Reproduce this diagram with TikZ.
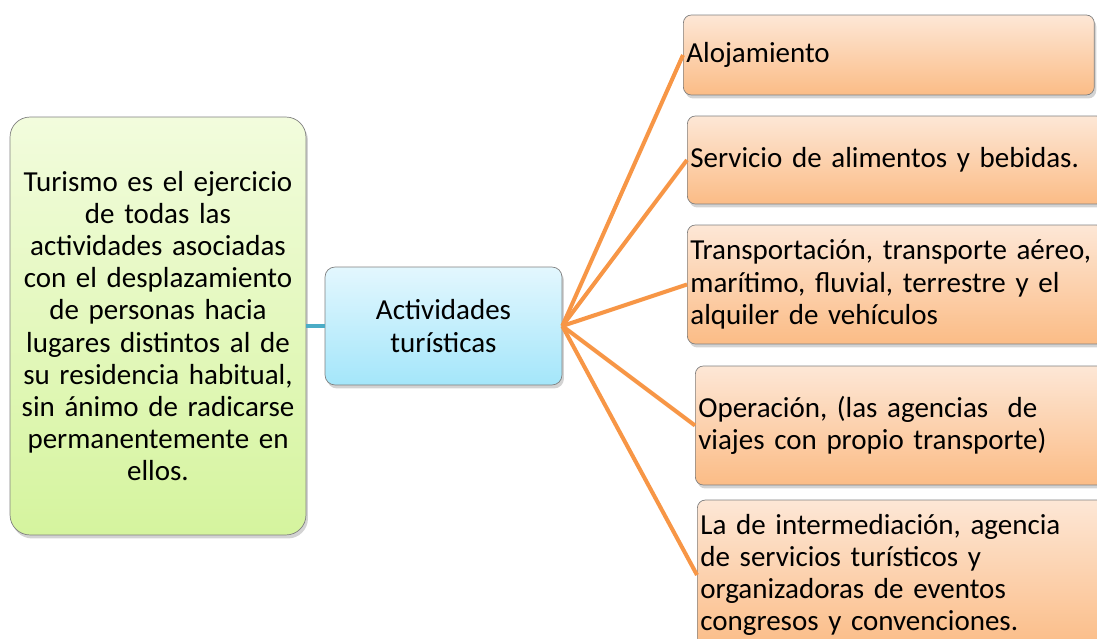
\documentclass[tikz,border=0pt]{standalone}
\usepackage{fontspec}
\setmainfont{Carlito}
\usepackage{tikz}
\usetikzlibrary{shadows}
\definecolor{verdeA}{HTML}{F2FCDD}
\definecolor{verdeB}{HTML}{D5F49E}
\definecolor{azulA}{HTML}{E3F7FE}
\definecolor{azulB}{HTML}{A4E6FA}
\definecolor{naranjaA}{HTML}{FDE7D6}
\definecolor{naranjaB}{HTML}{FBBC86}
\definecolor{naranjaL}{HTML}{F79646}
\definecolor{tealL}{HTML}{4BACC6}

\begin{document}
\begin{tikzpicture}[x=0.02cm, y=-0.02cm,
  font=\fontsize{16.5pt}{18.3pt}\selectfont,
  caja/.style={rectangle, draw=black!50, thin, drop shadow={shadow xshift=0.04cm, shadow yshift=-0.07cm, opacity=0.35}},
  defi/.style={caja, rounded corners=0.4cm, top color=verdeA, bottom color=verdeB, align=center,
               text width=5.8cm, minimum width=5.92cm, minimum height=8.36cm, inner xsep=0.06cm},
  centro/.style={caja, rounded corners=0.2cm, top color=azulA, bottom color=azulB, align=center,
                 minimum width=4.74cm, minimum height=2.36cm},
  act/.style={caja, rounded corners=0.16cm, top color=naranjaA, bottom color=naranjaB, align=left,
              inner xsep=0.06cm},
  ramal/.style={line width=2.3pt, naranjaL},
  enlace/.style={line width=2.3pt, tealL}]
\useasboundingbox (0,0) rectangle (1097,638);
% --- left: definition and centre ---
\node[defi] (T) at (158,326) {Turismo es el ejercicio\\ de todas las\\ actividades asociadas\\ con el desplazamiento\\ de personas hacia\\ lugares distintos al de\\ su residencia habitual,\\ sin ánimo de radicarse\\ permanentemente en\\ ellos.};
\node[centro] (A) at (443.5,326) {Actividades\\ turísticas};
% --- right: the five activities ---
\node[act, text width=8.1cm, minimum height=1.6cm, anchor=west] (O1) at (683,55) {Alojamiento};
\node[act, text width=8.22cm, minimum height=1.76cm, anchor=west] (O2) at (687,160) {Servicio de alimentos y bebidas.};
\node[act, text width=8.22cm, minimum height=2.38cm, anchor=west] (O3) at (687,284.5) {Transportación, transporte aéreo,\\ marítimo, fluvial, terrestre y el\\ alquiler de vehículos};
\node[act, text width=8.2cm, minimum height=2.38cm, anchor=west] (O4) at (695,425.5) {Operación, (las agencias~ de\\ viajes con propio transporte)};
\node[act, text width=8.2cm, minimum height=3cm, anchor=west] (O5) at (697,575) {La de intermediación, agencia\\ de servicios turísticos y\\ organizadoras de eventos\\ congresos y convenciones.};
% connectors
\draw[enlace] (T.east) -- (A.west);
\foreach \n in {O1,O2,O3,O4,O5} \draw[ramal] (A.east) -- (\n.west);
\end{tikzpicture}
\end{document}
